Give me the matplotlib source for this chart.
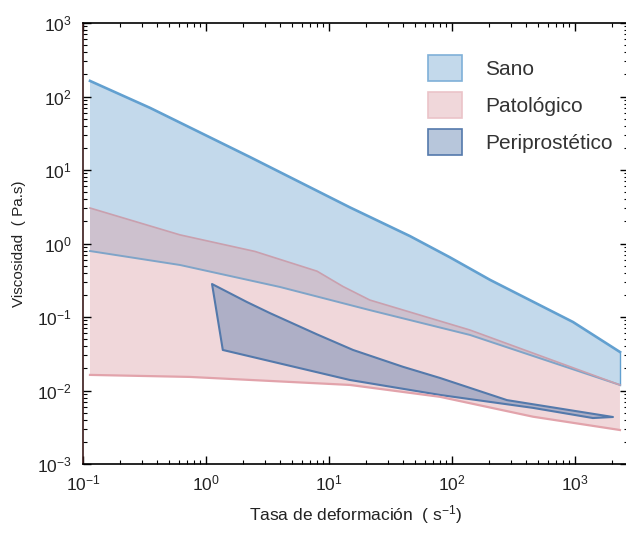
import matplotlib
matplotlib.use("Agg")
import matplotlib.pyplot as plt
from matplotlib.patches import Patch

plt.rcParams['font.family'] = ['Liberation Sans', 'DejaVu Sans']
plt.rcParams['mathtext.default'] = 'regular'

# Sano (healthy) band: upper and lower limits
sano_up_x = [0.114, 0.351, 2.28, 14.8, 45.6, 96, 204, 964, 2323]
sano_up_y = [163, 70, 15.0, 3.1, 1.26, 0.65, 0.32, 0.0855, 0.0334]
sano_lo_x = [0.114, 0.615, 4.0, 21.5, 140, 2323]
sano_lo_y = [0.79, 0.51, 0.256, 0.124, 0.057, 0.0119]

# Patologico band
pato_up_x = [0.114, 0.615, 2.5, 8.0, 13, 21.5, 140, 2323]
pato_up_y = [3.04, 1.31, 0.78, 0.42, 0.26, 0.170, 0.0665, 0.0119]
pato_lo_x = [0.114, 0.74, 14.8, 80, 456, 2323]
pato_lo_y = [0.0163, 0.0153, 0.0119, 0.0082, 0.0044, 0.0029]

# Periprostetico band
peri_up_x = [1.12, 2.15, 3.31, 8.0, 15.7, 40, 80, 280, 2037]
peri_up_y = [0.281, 0.16, 0.113, 0.058, 0.0356, 0.021, 0.0148, 0.0074, 0.00436]
peri_lo_x = [1.37, 14.8, 80, 456, 1400]
peri_lo_y = [0.0356, 0.0139, 0.0087, 0.0058, 0.00422]

labels = ['Sano', 'Patológico', 'Periprostético']


def band(x_up, y_up, x_lo, y_lo):
    xs = list(x_up) + list(reversed(x_lo))
    ys = list(y_up) + list(reversed(y_lo))
    return xs, ys


fig = plt.figure(figsize=(6.26, 5.36), dpi=100)
ax = fig.add_axes([83 / 626, 72 / 536, 545 / 626, 441 / 536])

sano_face = '#c3d9eb'
sano_edge = '#62a0d0'
pato_face = (221 / 255, 160 / 255, 168 / 255, 0.42)
pato_edge = '#e2a3ab'
peri_face = (0.33, 0.47, 0.67, 0.42)
peri_edge = '#5479ab'

xs, ys = band(sano_up_x, sano_up_y, sano_lo_x, sano_lo_y)
ax.fill(xs, ys, facecolor=sano_face, edgecolor='none')
ax.plot(sano_up_x, sano_up_y, color=sano_edge, lw=1.9)
ax.plot(sano_lo_x, sano_lo_y, color='#7fa4c8', lw=1.4)
ax.plot([sano_up_x[-1], sano_lo_x[-1]], [sano_up_y[-1], sano_lo_y[-1]],
        color=sano_edge, lw=1.0)

xs, ys = band(pato_up_x, pato_up_y, pato_lo_x, pato_lo_y)
ax.fill(xs, ys, facecolor=pato_face, edgecolor='none')
ax.plot(pato_up_x, pato_up_y, color='#c9a0ae', lw=1.2)
ax.plot(pato_lo_x, pato_lo_y, color=pato_edge, lw=1.6)

xs, ys = band(peri_up_x, peri_up_y, peri_lo_x, peri_lo_y)
ax.fill(xs, ys, facecolor=peri_face, edgecolor=peri_edge, lw=1.5,
        joinstyle='round')

ax.set_xscale('log')
ax.set_yscale('log')
ax.set_xlim(0.1, 2700)
ax.set_ylim(1e-3, 1e3)

ax.tick_params(which='both', direction='in', top=True, right=True,
               labelsize=12.5, labelcolor='#222222')
ax.tick_params(axis='x', which='major', pad=7)
ax.tick_params(axis='y', which='major', pad=8)
ax.tick_params(which='major', length=6, width=1)
ax.tick_params(which='minor', length=3, width=0.8)
for s in ax.spines.values():
    s.set_linewidth(1.2)
ax.spines['left'].set_color('#3a1a1a')

ax.set_xlabel('Tasa de deformación  ( s$^{-1}$)', fontsize=12.5, labelpad=7,
              color='#222222')
ax.set_ylabel('Viscosidad  ( Pa.s)', fontsize=11, labelpad=8,
              color='#222222')

handles = [
    Patch(facecolor=sano_face, edgecolor='#7fb0d8', lw=1.2),
    Patch(facecolor=pato_face, edgecolor='#ebc3c8', lw=1.2),
    Patch(facecolor=peri_face, edgecolor=peri_edge, lw=1.2),
]
fig.legend(handles, labels, loc='upper left',
           bbox_to_anchor=(428 / 626, 1 - 55 / 536),
           bbox_transform=fig.transFigure, frameon=False, fontsize=15,
           handlelength=1.63, handleheight=1.54, labelspacing=0.53,
           handletextpad=1.1, borderpad=0, borderaxespad=0,
           labelcolor='#333333')

fig.savefig('out.png', dpi=100)
